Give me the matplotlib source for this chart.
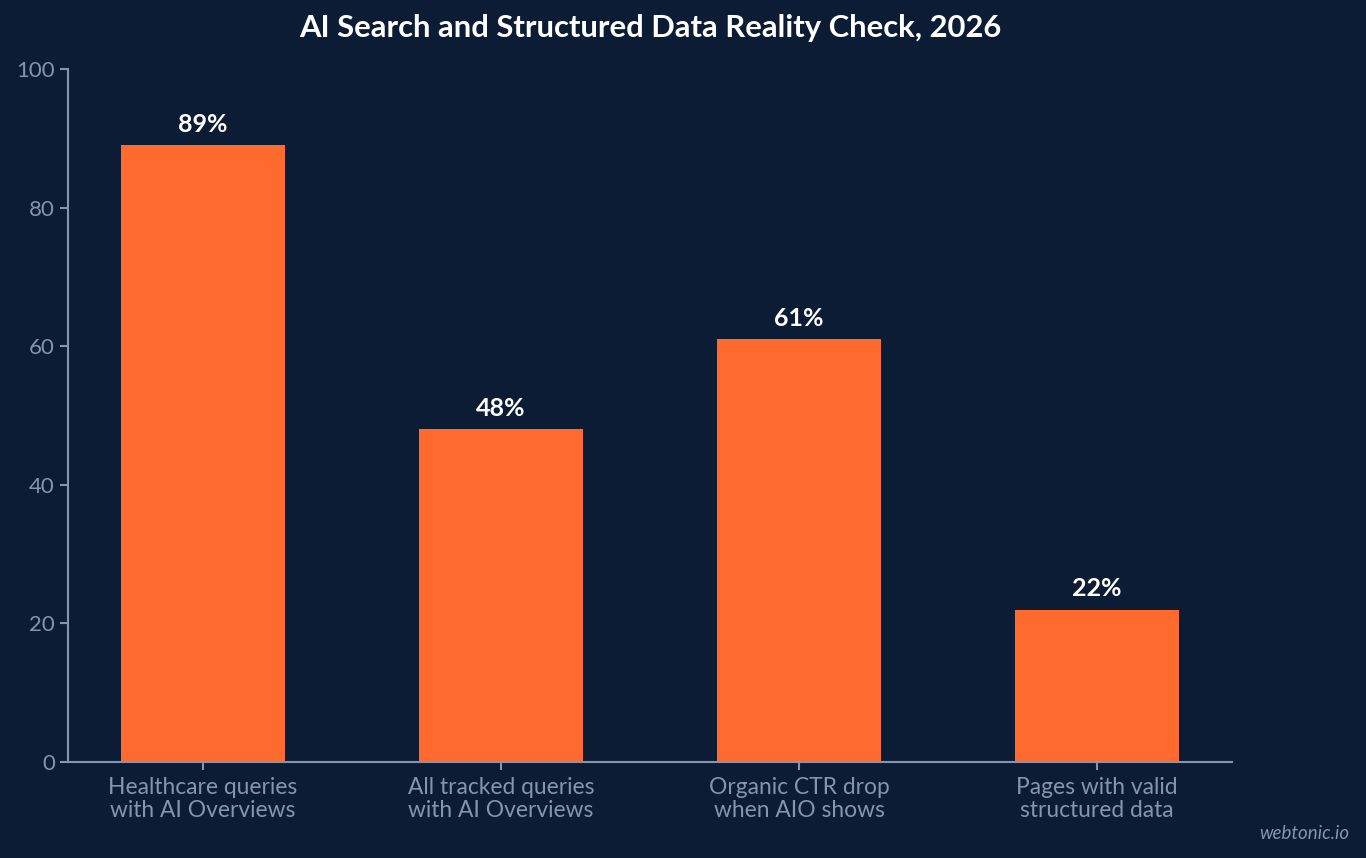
import matplotlib.pyplot as plt

categories = ["Healthcare queries\nwith AI Overviews",
              "All tracked queries\nwith AI Overviews",
              "Organic CTR drop\nwhen AIO shows",
              "Pages with valid\nstructured data"]
values = [89, 48, 61, 22]

bg = "#0b1c34"
bar_color = "#ff6b2e"
muted = "#8595ae"

plt.rcParams['font.family'] = ['Lato', 'DejaVu Sans']

fig = plt.figure(figsize=(13.66, 8.58), dpi=100, facecolor=bg)
ax = fig.add_axes([0.0498, 0.1119, 0.852, 0.8077], facecolor=bg)

x = range(len(categories))
ax.bar(x, values, width=0.55, color=bar_color, zorder=2)
for i, v in zip(x, values):
    ax.text(i, v + 1.4, f"{v}%", ha="center", va="bottom", color="white",
            fontsize=18, fontweight="bold")

ax.set_ylim(0, 100)
ax.set_xticks(list(x))
ax.set_xticklabels(categories, fontsize=16.4, color=muted, linespacing=1.12)
ax.set_yticks([0, 20, 40, 60, 80, 100])
ax.tick_params(axis="y", colors=muted, labelsize=16, length=6, width=1.5)
ax.tick_params(axis="x", colors=muted, length=6, width=1.5, pad=5)
for s in ["top", "right"]:
    ax.spines[s].set_visible(False)
for s in ["left", "bottom"]:
    ax.spines[s].set_color(muted)
    ax.spines[s].set_linewidth(1.5)

fig.text(0.4758, 0.967, "AI Search and Structured Data Reality Check, 2026",
         ha="center", va="center", color="white", fontsize=22.3, fontweight="bold")
fig.text(0.988, 0.029, "webtonic.io", ha="right", va="center", color=muted,
         fontsize=13.5, style="italic")

fig.savefig("out.png", dpi=100, facecolor=bg)
